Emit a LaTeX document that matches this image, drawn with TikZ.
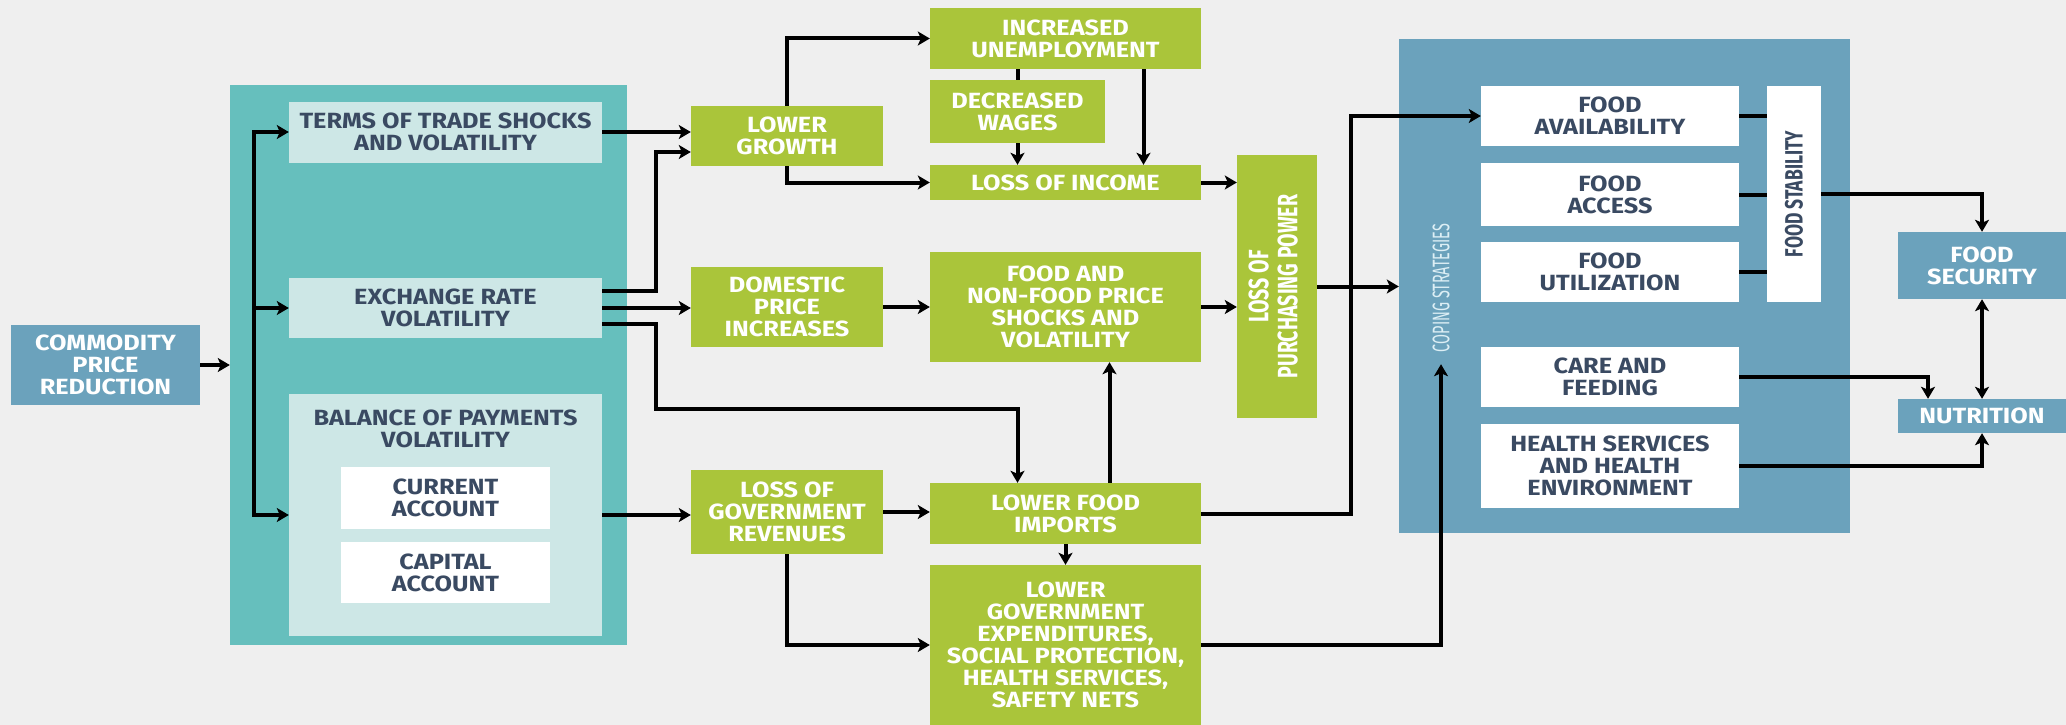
\documentclass[tikz,border=0pt]{standalone}
\usepackage{fontspec}
\setmainfont{Fira Sans}[FakeStretch=1.15]
\newfontfamily\narrowfont{Fira Sans}[FakeStretch=0.7]
\newfontfamily\copefont{Fira Sans}[FakeStretch=0.6]
\usepackage{graphicx}
\usetikzlibrary{arrows.meta}
\usepackage{xcolor}
\definecolor{bgc}{HTML}{EFEFEF}
\definecolor{leaf}{HTML}{AAC53A}
\definecolor{econteal}{HTML}{66BFBD}
\definecolor{paleteal}{HTML}{CDE7E6}
\definecolor{steel}{HTML}{6BA2BC}
\definecolor{ink}{HTML}{3A4A62}
\definecolor{copetext}{HTML}{DDEFF5}

\begin{document}
\begin{tikzpicture}[x=1pt,y=-1pt,
        every node/.style={inner sep=0pt,align=center,font=\fontsize{22}{22}\selectfont\bfseries},
        sz/.style 2 args={minimum width=#1pt,minimum height=#2pt},
        gbox/.style={fill=leaf,text=white},
        pbox/.style={fill=paleteal,text=ink},
        wbox/.style={fill=white,text=ink},
        bbox/.style={fill=steel,text=white},
        link/.style={line width=4pt},
        arr/.style={line width=4pt,-{Stealth[length=12pt,width=14pt,inset=3pt]}},
        arrtwo/.style={line width=4pt,{Stealth[length=12pt,width=14pt,inset=3pt]}-{Stealth[length=12pt,width=14pt,inset=3pt]}},
      ]
      \fill[bgc] (0,0) rectangle (2066,725);
      \useasboundingbox (0,0) rectangle (2066,725);

      % panels
      \node[sz={397}{560},fill=econteal] (econ) at (428.5,365) {};
      \node[sz={451}{494},fill=steel] (coping) at (1624.5,286) {};

      % left column
      \node[bbox,sz={189}{80}] (commodity) at (105.5,365) {COMMODITY\\PRICE\\REDUCTION};
      \node[pbox,sz={313}{61}] (terms) at (445.5,132) {TERMS OF TRADE SHOCKS\\AND VOLATILITY};
      \node[pbox,sz={313}{60}] (exchange) at (445.5,308) {EXCHANGE RATE\\VOLATILITY};
      \node[pbox,sz={313}{242}] (balance) at (445.5,515) {};
      \node[text=ink] (baltitle) at (445.5,429) {BALANCE OF PAYMENTS\\VOLATILITY};
      \node[wbox,sz={209}{62}] (current) at (445.5,498) {CURRENT\\ACCOUNT};
      \node[wbox,sz={209}{61}] (capital) at (445.5,572.5) {CAPITAL\\ACCOUNT};

      % middle column
      \node[gbox,sz={192}{60}] (lowgrowth) at (787,136) {LOWER\\GROWTH};
      \node[gbox,sz={192}{80}] (domestic) at (787,307) {DOMESTIC\\PRICE\\INCREASES};
      \node[gbox,sz={192}{84}] (govrev) at (787,512) {LOSS OF\\GOVERNMENT\\REVENUES};
      \node[gbox,sz={271}{61}] (unemploy) at (1065.5,38.5) {INCREASED\\UNEMPLOYMENT};
      \node[gbox,sz={175}{63}] (wages) at (1017.5,111.5) {DECREASED\\WAGES};
      \node[gbox,sz={271}{35}] (income) at (1065.5,182.5) {LOSS OF INCOME};
      \node[gbox,sz={271}{110}] (foodprice) at (1065.5,307) {FOOD AND\\NON-FOOD PRICE\\SHOCKS AND\\VOLATILITY};
      \node[gbox,sz={271}{61}] (imports) at (1065.5,513.5) {LOWER FOOD\\IMPORTS};
      \node[gbox,sz={271}{160}] (expend) at (1065.5,645) {LOWER\\GOVERNMENT\\EXPENDITURES,\\SOCIAL PROTECTION,\\HEALTH SERVICES,\\SAFETY NETS};
      \node[gbox,sz={80}{263}] (purchase) at (1277,286.5)
        {\rotatebox{90}{\narrowfont\fontsize{28}{29}\selectfont\bfseries\begin{tabular}{@{}c@{}}LOSS OF\\PURCHASING POWER\end{tabular}}};

      % right panel
      \node[text=copetext] (copelabel) at (1441,288) {\rotatebox{90}{\copefont\mdseries\fontsize{24}{24}\selectfont COPING STRATEGIES}};
      \node[wbox,sz={258}{60}] (avail) at (1610,116) {FOOD\\AVAILABILITY};
      \node[wbox,sz={258}{63}] (access) at (1610,194.5) {FOOD\\ACCESS};
      \node[wbox,sz={258}{60}] (util) at (1610,272) {FOOD\\UTILIZATION};
      \node[wbox,sz={54}{216}] (stability) at (1794,194) {\rotatebox{90}{\narrowfont\fontsize{25}{25}\selectfont\bfseries FOOD STABILITY}};
      \node[wbox,sz={258}{60}] (care) at (1610,377) {CARE AND\\FEEDING};
      \node[wbox,sz={258}{84}] (health) at (1610,466) {HEALTH SERVICES\\AND HEALTH\\ENVIRONMENT};
      \node[bbox,sz={168}{67}] (security) at (1982,265.5) {FOOD\\SECURITY};
      \node[bbox,sz={168}{34}] (nutrition) at (1982,416) {NUTRITION};

      % connectors
      \draw[arr] (commodity.east) -- (commodity.east -| econ.west);
      \coordinate (split) at (254,308);
      \draw[arr] (split) |- (terms.west);
      \draw[arr] (split) -- (exchange.west);
      \draw[arr] (split) |- (balance.west);
      \draw[arr] (terms.east) -- (terms.east -| lowgrowth.west);
      \draw[arr] ([yshift=17pt]exchange.east) -- ++(54,0) |- ([yshift=-16pt]lowgrowth.west);
      \draw[arr] (exchange.east) -- (exchange.east -| domestic.west);
      \coordinate (bend) at (656,409);
      \draw[arr] ([yshift=-16pt]exchange.east) -| (bend) -| ([xshift=-48pt]imports.north);
      \draw[arr] (balance.east) -- (balance.east -| govrev.west);
      \draw[arr] (lowgrowth.north) |- (unemploy.west);
      \draw[arr] (lowgrowth.south) |- (income.west);
      \draw[link] (wages.north |- unemploy.south) -- (wages.north);
      \draw[arr] (wages.south) -- (wages.south |- income.north);
      \draw[arr] ([xshift=78pt]unemploy.south) -- ([xshift=78pt]income.north);
      \draw[arr] (income.east) -- (income.east -| purchase.west);
      \draw[arr] (domestic.east) -- (domestic.east -| foodprice.west);
      \draw[arr] (foodprice.east) -- (foodprice.east -| purchase.west);
      \draw[arr] (govrev.east) -- (govrev.east -| imports.west);
      \draw[arr] ([xshift=44pt]imports.north) -- ([xshift=44pt]foodprice.south);
      \draw[arr] (imports.south) -- (expend.north);
      \draw[arr] (govrev.south) |- (expend.west);
      \draw[arr] (imports.east) -- ++(150,0) |- (avail.west);
      \draw[arr] (purchase.east) -- (purchase.east -| coping.west);
      \draw[arr] (expend.east) -| ([yshift=-12pt]copelabel.south);
      \foreach \f in {avail,access,util}
        \draw[link] (\f.east) -- (\f.east -| stability.west);
      \draw[arr] (stability.east) -| (security.north);
      \draw[arrtwo] (security.south) -- (nutrition.north);
      \draw[arr] (care.east) -| ([xshift=-54pt]nutrition.north);
      \draw[arr] (health.east) -| (nutrition.south);
    \end{tikzpicture}
\end{document}
